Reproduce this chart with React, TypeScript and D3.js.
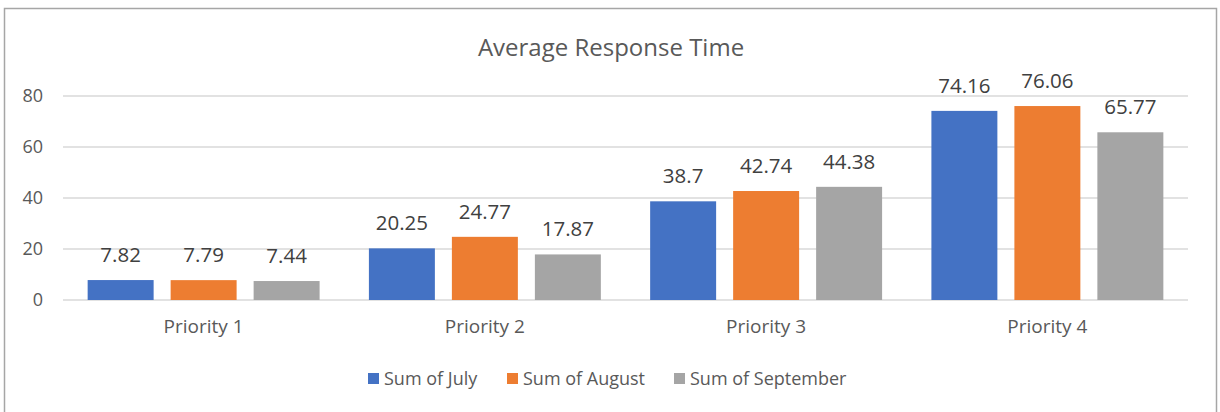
import React, { useEffect, useRef } from 'react';
import * as d3 from 'd3';

const categories = ['Priority 1', 'Priority 2', 'Priority 3', 'Priority 4'];
const seriesNames = ['Sum of July', 'Sum of August', 'Sum of September'];
const july = [7.82, 20.25, 38.7, 74.16];
const august = [7.79, 24.77, 42.74, 76.06];
const september = [7.44, 17.87, 44.38, 65.77];
const yTicks = [0, 20, 40, 60, 80];
const colors = ['#4472C4', '#ED7D31', '#A5A5A5'];

const App: React.FC = () => {
  const svgRef = useRef<SVGSVGElement>(null);

  useEffect(() => {
    if (!svgRef.current) return;
    const width = 1220;
    const height = 412;
    const font = '"Open Sans", "Segoe UI", sans-serif';
    const textColor = '#595959';

    const svg = d3.select(svgRef.current);
    svg.selectAll('*').remove();

    svg.append('rect')
      .attr('x', 0).attr('y', 0).attr('width', width).attr('height', height)
      .attr('fill', '#fff');

    // outer chart border
    svg.append('rect')
      .attr('x', 4.5).attr('y', 8.5).attr('width', 1212).attr('height', 420)
      .attr('fill', 'none').attr('stroke', '#a6a6a6').attr('stroke-width', 1.5);

    const plotLeft = 63;
    const plotRight = 1188;

    const x0 = d3.scaleBand<string>().domain(categories).range([plotLeft, plotRight]).padding(0);
    const x1 = d3.scaleBand<string>().domain(seriesNames).range([0, x0.bandwidth()])
      .paddingInner(0.205).paddingOuter(0.297);
    const y = d3.scaleLinear().domain([0, 80]).range([300, 96]);

    // gridlines
    svg.append('g').selectAll('line').data(yTicks).join('line')
      .attr('x1', plotLeft).attr('x2', plotRight)
      .attr('y1', d => y(d)).attr('y2', d => y(d))
      .attr('stroke', '#d9d9d9').attr('stroke-width', 1.3);

    // y tick labels
    svg.append('g').selectAll('text').data(yTicks).join('text')
      .attr('x', 43).attr('y', d => y(d) + 6)
      .attr('text-anchor', 'end')
      .attr('font-family', font).attr('font-size', 18).attr('fill', textColor)
      .text(d => d);

    // title
    svg.append('text')
      .attr('x', 611).attr('y', 56)
      .attr('text-anchor', 'middle')
      .attr('font-family', font).attr('font-size', 24).attr('fill', textColor)
      .text('Average Response Time');

    const series = [july, august, september];

    series.forEach((vals, si) => {
      const g = svg.append('g');
      g.selectAll('rect').data(vals).join('rect')
        .attr('x', (_, i) => (x0(categories[i]) ?? 0) + (x1(seriesNames[si]) ?? 0))
        .attr('y', d => y(d))
        .attr('width', x1.bandwidth())
        .attr('height', d => y(0) - y(d))
        .attr('fill', colors[si]);

      g.selectAll('text').data(vals).join('text')
        .attr('x', (_, i) => (x0(categories[i]) ?? 0) + (x1(seriesNames[si]) ?? 0) + x1.bandwidth() / 2)
        .attr('y', d => y(d) - 18)
        .attr('text-anchor', 'middle')
        .attr('font-family', font).attr('font-size', 20.5).attr('fill', '#404040')
        .text(d => String(d));
    });

    // category labels
    svg.append('g').selectAll('text').data(categories).join('text')
      .attr('x', d => (x0(d) ?? 0) + x0.bandwidth() / 2)
      .attr('y', 333)
      .attr('text-anchor', 'middle')
      .attr('font-family', font).attr('font-size', 19).attr('fill', textColor)
      .text(d => d);

    // legend
    const legendX = [368, 507, 674];
    const legend = svg.append('g');
    seriesNames.forEach((name, i) => {
      legend.append('rect')
        .attr('x', legendX[i]).attr('y', 373).attr('width', 11).attr('height', 11)
        .attr('fill', colors[i]);
      legend.append('text')
        .attr('x', legendX[i] + 16).attr('y', 385)
        .attr('font-family', font).attr('font-size', 18).attr('fill', textColor)
        .text(name);
    });
  }, []);

  return (
    <div style={{ position: 'absolute', left: 0, top: 0 }}>
      <svg ref={svgRef} width={1220} height={412} style={{ display: 'block' }}></svg>
    </div>
  );
};

export default App;
